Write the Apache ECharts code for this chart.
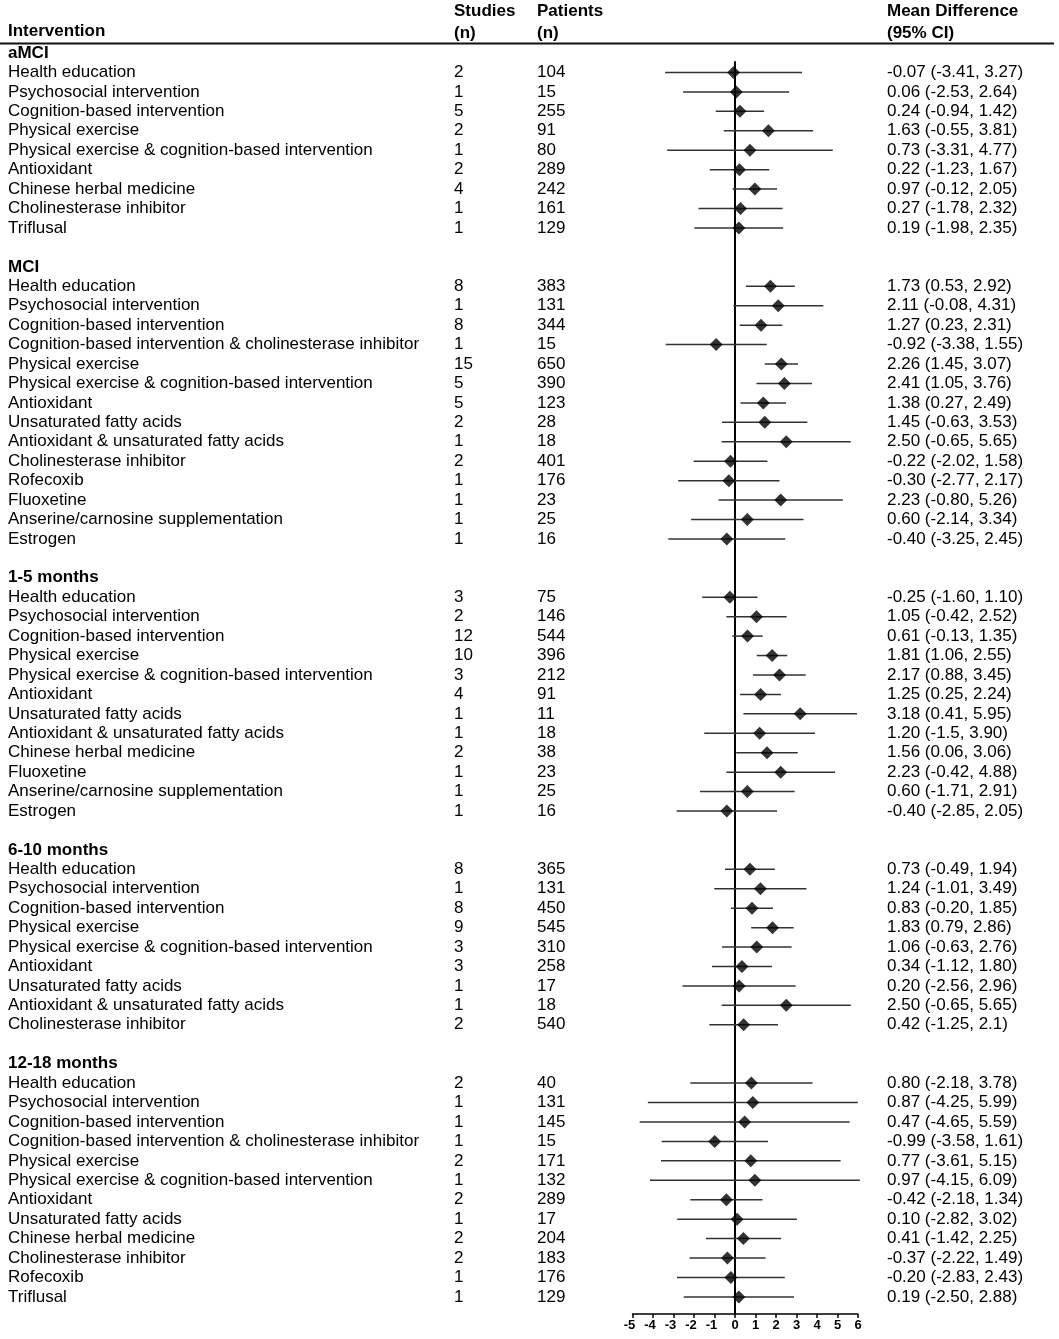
<!DOCTYPE html>
<html>
<head>
<meta charset="utf-8">
<script src="https://cdn.jsdelivr.net/npm/echarts@6/dist/echarts.min.js"></script>
<style>
html,body{margin:0;padding:0;background:#fff;}
#chart{width:1059px;height:1339px;}
</style>
</head>
<body>
<div id="chart"></div>
<script>
const groups = ['aMCI', 'MCI', '1-5 months', '6-10 months', '12-18 months'];
const groupCounts = [9, 14, 12, 9, 12];
const interventions = [
  'Health education','Psychosocial intervention','Cognition-based intervention','Physical exercise','Physical exercise & cognition-based intervention','Antioxidant','Chinese herbal medicine','Cholinesterase inhibitor','Triflusal',
  'Health education','Psychosocial intervention','Cognition-based intervention','Cognition-based intervention & cholinesterase inhibitor','Physical exercise','Physical exercise & cognition-based intervention','Antioxidant','Unsaturated fatty acids','Antioxidant & unsaturated fatty acids','Cholinesterase inhibitor','Rofecoxib','Fluoxetine','Anserine/carnosine supplementation','Estrogen',
  'Health education','Psychosocial intervention','Cognition-based intervention','Physical exercise','Physical exercise & cognition-based intervention','Antioxidant','Unsaturated fatty acids','Antioxidant & unsaturated fatty acids','Chinese herbal medicine','Fluoxetine','Anserine/carnosine supplementation','Estrogen',
  'Health education','Psychosocial intervention','Cognition-based intervention','Physical exercise','Physical exercise & cognition-based intervention','Antioxidant','Unsaturated fatty acids','Antioxidant & unsaturated fatty acids','Cholinesterase inhibitor',
  'Health education','Psychosocial intervention','Cognition-based intervention','Cognition-based intervention & cholinesterase inhibitor','Physical exercise','Physical exercise & cognition-based intervention','Antioxidant','Unsaturated fatty acids','Chinese herbal medicine','Cholinesterase inhibitor','Rofecoxib','Triflusal'
];
const studies = [
  2,1,5,2,1,2,4,1,1,
  8,1,8,1,15,5,5,2,1,2,1,1,1,1,
  3,2,12,10,3,4,1,1,2,1,1,1,
  8,1,8,9,3,3,1,1,2,
  2,1,1,1,2,1,2,1,2,2,1,1
];
const patients = [
  104,15,255,91,80,289,242,161,129,
  383,131,344,15,650,390,123,28,18,401,176,23,25,16,
  75,146,544,396,212,91,11,18,38,23,25,16,
  365,131,450,545,310,258,17,18,540,
  40,131,145,15,171,132,289,17,204,183,176,129
];
const meanDiff = [
  -0.07,0.06,0.24,1.63,0.73,0.22,0.97,0.27,0.19,
  1.73,2.11,1.27,-0.92,2.26,2.41,1.38,1.45,2.50,-0.22,-0.30,2.23,0.60,-0.40,
  -0.25,1.05,0.61,1.81,2.17,1.25,3.18,1.20,1.56,2.23,0.60,-0.40,
  0.73,1.24,0.83,1.83,1.06,0.34,0.20,2.50,0.42,
  0.80,0.87,0.47,-0.99,0.77,0.97,-0.42,0.10,0.41,-0.37,-0.20,0.19
];
const ciLow = [
  -3.41,-2.53,-0.94,-0.55,-3.31,-1.23,-0.12,-1.78,-1.98,
  0.53,-0.08,0.23,-3.38,1.45,1.05,0.27,-0.63,-0.65,-2.02,-2.77,-0.80,-2.14,-3.25,
  -1.60,-0.42,-0.13,1.06,0.88,0.25,0.41,-1.5,0.06,-0.42,-1.71,-2.85,
  -0.49,-1.01,-0.20,0.79,-0.63,-1.12,-2.56,-0.65,-1.25,
  -2.18,-4.25,-4.65,-3.58,-3.61,-4.15,-2.18,-2.82,-1.42,-2.22,-2.83,-2.50
];
const ciHigh = [
  3.27,2.64,1.42,3.81,4.77,1.67,2.05,2.32,2.35,
  2.92,4.31,2.31,1.55,3.07,3.76,2.49,3.53,5.65,1.58,2.17,5.26,3.34,2.45,
  1.10,2.52,1.35,2.55,3.45,2.24,5.95,3.90,3.06,4.88,2.91,2.05,
  1.94,3.49,1.85,2.86,2.76,1.80,2.96,5.65,2.1,
  3.78,5.99,5.59,1.61,5.15,6.09,1.34,3.02,2.25,1.49,2.43,2.88
];
const mdLabels = [
  '-0.07 (-3.41, 3.27)','0.06 (-2.53, 2.64)','0.24 (-0.94, 1.42)','1.63 (-0.55, 3.81)','0.73 (-3.31, 4.77)','0.22 (-1.23, 1.67)','0.97 (-0.12, 2.05)','0.27 (-1.78, 2.32)','0.19 (-1.98, 2.35)',
  '1.73 (0.53, 2.92)','2.11 (-0.08, 4.31)','1.27 (0.23, 2.31)','-0.92 (-3.38, 1.55)','2.26 (1.45, 3.07)','2.41 (1.05, 3.76)','1.38 (0.27, 2.49)','1.45 (-0.63, 3.53)','2.50 (-0.65, 5.65)','-0.22 (-2.02, 1.58)','-0.30 (-2.77, 2.17)','2.23 (-0.80, 5.26)','0.60 (-2.14, 3.34)','-0.40 (-3.25, 2.45)',
  '-0.25 (-1.60, 1.10)','1.05 (-0.42, 2.52)','0.61 (-0.13, 1.35)','1.81 (1.06, 2.55)','2.17 (0.88, 3.45)','1.25 (0.25, 2.24)','3.18 (0.41, 5.95)','1.20 (-1.5, 3.90)','1.56 (0.06, 3.06)','2.23 (-0.42, 4.88)','0.60 (-1.71, 2.91)','-0.40 (-2.85, 2.05)',
  '0.73 (-0.49, 1.94)','1.24 (-1.01, 3.49)','0.83 (-0.20, 1.85)','1.83 (0.79, 2.86)','1.06 (-0.63, 2.76)','0.34 (-1.12, 1.80)','0.20 (-2.56, 2.96)','2.50 (-0.65, 5.65)','0.42 (-1.25, 2.1)',
  '0.80 (-2.18, 3.78)','0.87 (-4.25, 5.99)','0.47 (-4.65, 5.59)','-0.99 (-3.58, 1.61)','0.77 (-3.61, 5.15)','0.97 (-4.15, 6.09)','-0.42 (-2.18, 1.34)','0.10 (-2.82, 3.02)','0.41 (-1.42, 2.25)','-0.37 (-2.22, 1.49)','-0.20 (-2.83, 2.43)','0.19 (-2.50, 2.88)'
];
const xTicks = [-5, 6, 1]; // min, max, interval

// build row layout
const headerRows = [];   // [x, row, groupIndex]
const itemRows = [];     // [md, row, lo, hi, itemIndex]
let row = 0, item = 0;
groups.forEach((g, gi) => {
  headerRows.push([0, row, gi]);
  row++;
  for (let k = 0; k < groupCounts[gi]; k++) {
    itemRows.push([meanDiff[item], row, ciLow[item], ciHigh[item], item]);
    row++; item++;
  }
  row++; // blank row
});

const FONT = '"Liberation Sans", Arial, sans-serif';
const FS = 17;
const COLS = { name: 8, studies: 454, patients: 537, md: 887 };

const chart = echarts.init(document.getElementById('chart'), null, { renderer: 'canvas' });
chart.setOption({
  animation: false,
  backgroundColor: '#fff',
  grid: { left: 632.5, right: 201, top: 62, bottom: 25, containLabel: false },
  xAxis: {
    type: 'value', min: xTicks[0], max: xTicks[1], interval: xTicks[2],
    axisLine: { show: true, onZero: false, lineStyle: { color: '#000', width: 1.5 } },
    axisTick: { show: true, length: 4, lineStyle: { color: '#000', width: 1.5 } },
    axisLabel: {
      color: '#000', fontFamily: FONT, fontWeight: 'bold', fontSize: 13, margin: 5,
      formatter: v => v < 0 ? '{neg|' + v + '}' : String(v),
      rich: { neg: { padding: [0, 6, 0, 0], color: '#000', fontFamily: FONT, fontWeight: 'bold', fontSize: 13 } }
    },
    splitLine: { show: false }
  },
  yAxis: {
    type: 'value', inverse: true, min: 0.46, max: 64.88,
    axisLine: { show: true, onZero: true, lineStyle: { color: '#000', width: 2 } },
    axisTick: { show: false }, axisLabel: { show: false }, splitLine: { show: false }
  },
  graphic: [
    { type: 'text', left: 8, top: 23, style: { text: 'Intervention', font: 'bold ' + FS + 'px ' + FONT, fill: '#000' } },
    { type: 'text', left: COLS.studies, top: 0, style: { text: 'Studies\n(n)', font: 'bold ' + FS + 'px ' + FONT, fill: '#000', lineHeight: 22 } },
    { type: 'text', left: COLS.patients, top: 0, style: { text: 'Patients\n(n)', font: 'bold ' + FS + 'px ' + FONT, fill: '#000', lineHeight: 22 } },
    { type: 'text', left: COLS.md, top: 0, style: { text: 'Mean Difference\n(95% CI)', font: 'bold ' + FS + 'px ' + FONT, fill: '#000', lineHeight: 22 } },
    { type: 'line', shape: { x1: 0, y1: 43.5, x2: 1054, y2: 43.5 }, style: { stroke: '#111', lineWidth: 2 } }
  ],
  series: [
    {
      type: 'custom', name: 'headers', data: headerRows, clip: false,
      renderItem: (params, api) => {
        const y = api.coord([0, api.value(1)])[1];
        return { type: 'text', x: COLS.name, y: y,
          style: { text: groups[api.value(2)], font: 'bold ' + FS + 'px ' + FONT, fill: '#000', verticalAlign: 'middle', align: 'left' } };
      }
    },
    {
      type: 'custom', name: 'texts', data: itemRows, clip: false,
      renderItem: (params, api) => {
        const y = api.coord([0, api.value(1)])[1];
        const i = api.value(4);
        const st = (t, x) => ({ type: 'text', x: x, y: y,
          style: { text: String(t), font: FS + 'px ' + FONT, fill: '#000', verticalAlign: 'middle', align: 'left' } });
        return { type: 'group', children: [
          st(interventions[i], COLS.name), st(studies[i], COLS.studies),
          st(patients[i], COLS.patients), st(mdLabels[i], COLS.md)
        ] };
      }
    },
    {
      type: 'custom', name: 'ci', data: itemRows, clip: false,
      renderItem: (params, api) => {
        const a = api.coord([api.value(2), api.value(1)]);
        const b = api.coord([api.value(3), api.value(1)]);
        return { type: 'line', shape: { x1: a[0], y1: a[1], x2: b[0], y2: b[1] },
          style: { stroke: '#333', lineWidth: 1.5 } };
      }
    },
    {
      type: 'scatter', name: 'md', data: itemRows.map(r => [r[0], r[1]]),
      symbol: 'diamond', symbolSize: 13, itemStyle: { color: '#000' }, z: 5
    }
  ]
});
</script>
</body>
</html>
